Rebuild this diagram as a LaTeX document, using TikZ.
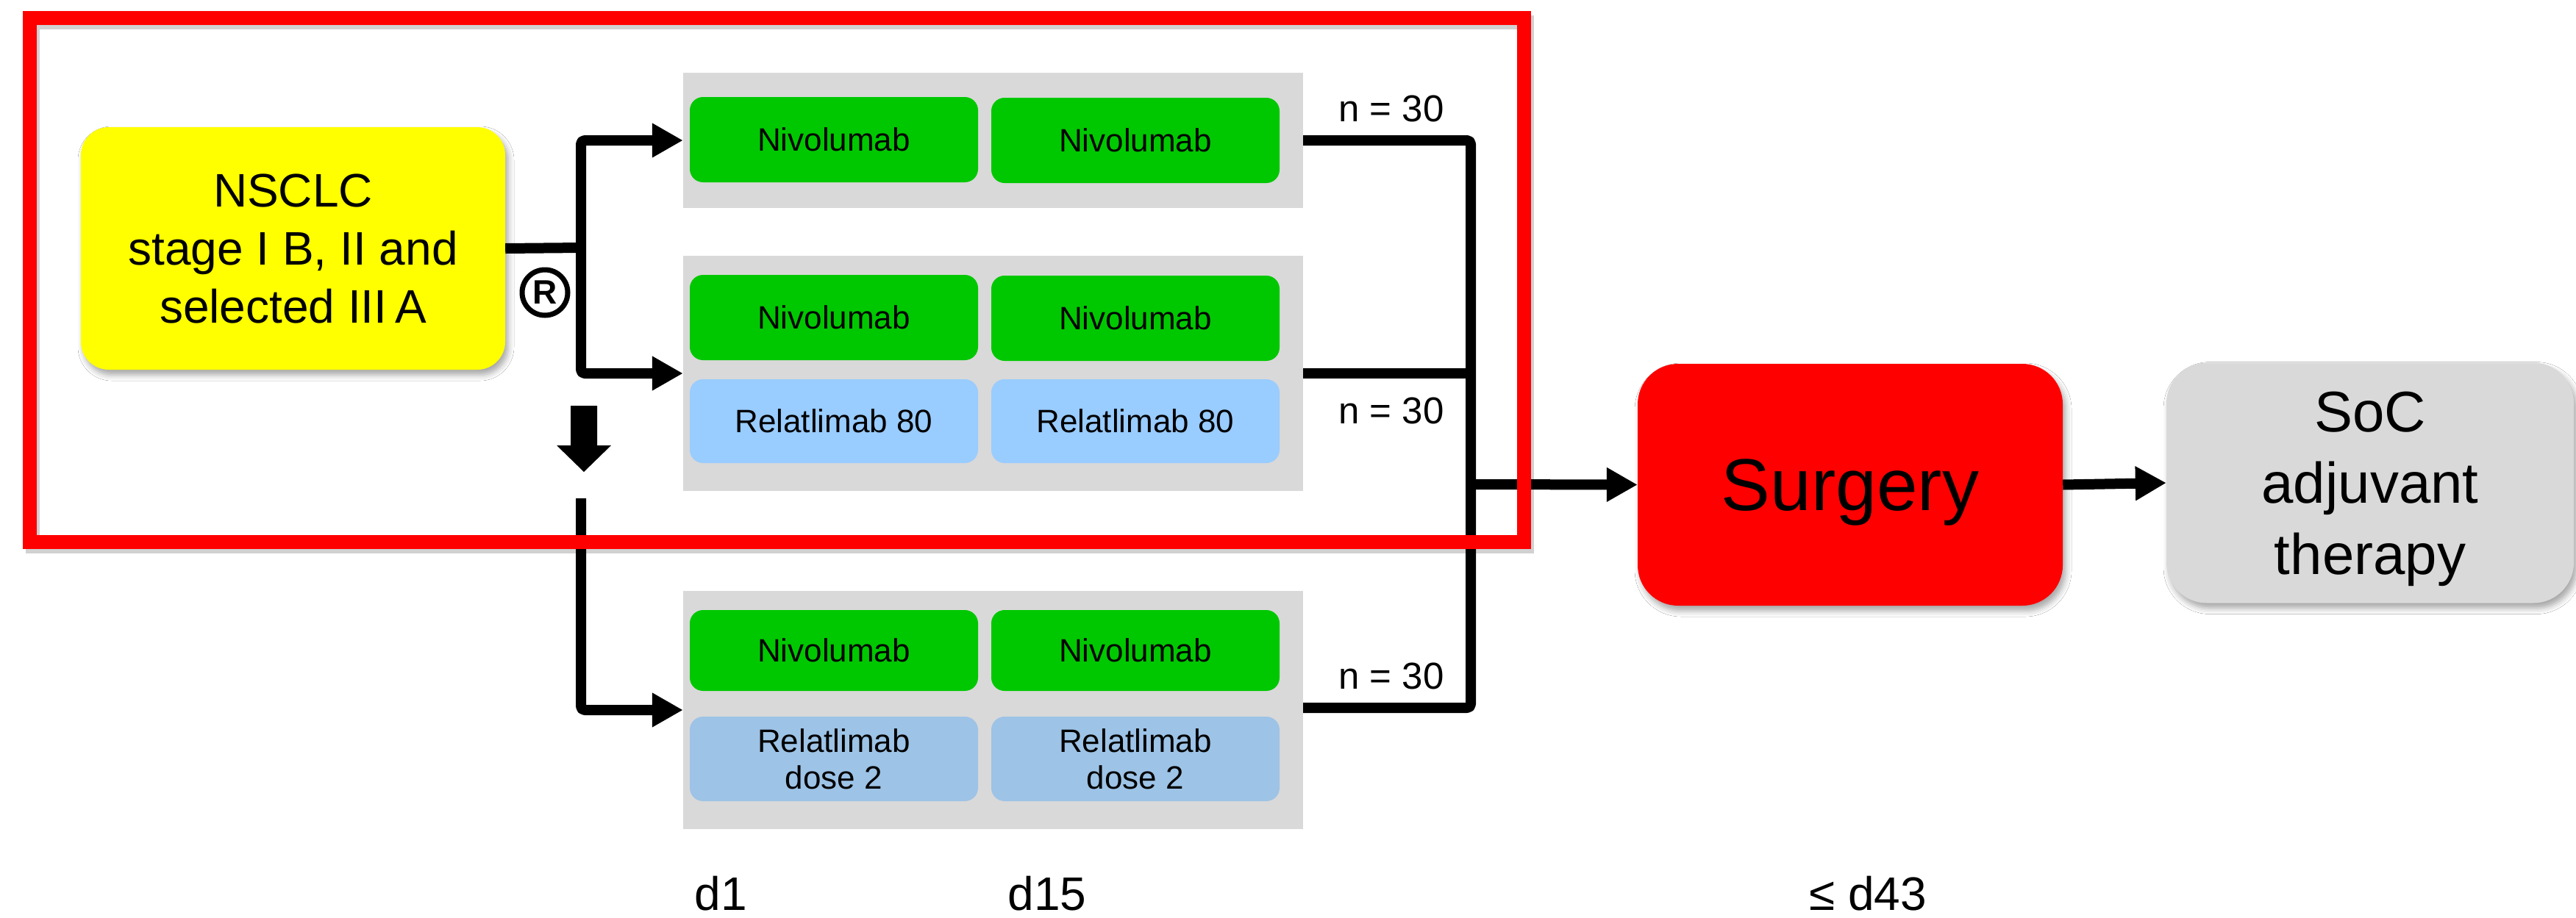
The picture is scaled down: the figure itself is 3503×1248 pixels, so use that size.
\documentclass[tikz,border=0pt]{standalone}
\usepackage{fontspec}
\setmainfont{Liberation Sans}
\usetikzlibrary{arrows.meta,shadows.blur}

\definecolor{boxyellow}{HTML}{FFFF00}
\definecolor{dosegreen}{HTML}{00C800}
\definecolor{relablue}{HTML}{99CCFF}
\definecolor{doseblue}{HTML}{9DC3E6}
\definecolor{panelgray}{HTML}{D9D9D9}
\definecolor{framered}{HTML}{FF0000}

\tikzset{
  conn/.style={draw=black, line width=14pt, line join=round},
  arrowconn/.style={conn, -{Triangle[length=42pt,width=44pt]}},
  panel/.style={fill=panelgray, draw=none, minimum width=843pt, inner sep=0pt},
  drugbox/.style={rounded corners=18pt, minimum width=392pt, inner sep=0pt,
    align=center, font=\fontsize{44}{50}\selectfont},
  nivo/.style={drugbox, fill=dosegreen},
  relaeighty/.style={drugbox, fill=relablue},
  reladose/.style={drugbox, fill=doseblue},
  softshadow/.style={blur shadow={shadow xshift=4pt, shadow yshift=-7pt,
    shadow blur radius=8pt, shadow opacity=35}},
  bigbox/.style={inner sep=0pt, align=center, softshadow},
  nlabel/.style={font=\fontsize{51}{51}\selectfont, inner sep=0pt},
  daylabel/.style={font=\fontsize{64}{64}\selectfont, anchor=base, inner sep=0pt},
}

\begin{document}
\begin{tikzpicture}[x=1pt, y=-1pt]
  \useasboundingbox (0,0) rectangle (3503,1248);
  \fill[white] (0,0) rectangle (3503,1248);

  % patient population
  \node[bigbox, fill=boxyellow, rounded corners=38pt,
        minimum width=577pt, minimum height=330pt,
        font=\fontsize{64}{79}\selectfont] (nsclc) at (398.5,338)
        {NSCLC\\stage I B, II and\\selected III\,A};

  % treatment arms
  \node[panel, minimum height=184pt] (g1) at (1350.5,191) {};
  \node[panel, minimum height=320pt] (g2) at (1350.5,508) {};
  \node[panel, minimum height=324pt] (g3) at (1350.5,966) {};

  \node[nivo, minimum height=116pt] (a1) at (1134,190) {Nivolumab};
  \node[nivo, minimum height=116pt] (a2) at (1544,191) {Nivolumab};

  \node[nivo, minimum height=116pt] (b1) at (1134,432) {Nivolumab};
  \node[nivo, minimum height=116pt] (b2) at (1544,433) {Nivolumab};
  \node[relaeighty, minimum height=114pt] (b3) at (1134,573) {Relatlimab 80};
  \node[relaeighty, minimum height=114pt] (b4) at (1544,573) {Relatlimab 80};

  \node[nivo, minimum height=110pt] (c1) at (1134,885) {Nivolumab};
  \node[nivo, minimum height=110pt] (c2) at (1544,885) {Nivolumab};
  \node[reladose, minimum height=115pt] (c3) at (1134,1032.5) {Relatlimab\\dose 2};
  \node[reladose, minimum height=115pt] (c4) at (1544,1032.5) {Relatlimab\\dose 2};

  \node[nlabel] (n1) at (1892,148) {n = 30};
  \node[nlabel] (n2) at (1892,559) {n = 30};
  \node[nlabel] (n3) at (1892,920) {n = 30};

  % surgery and adjuvant phase
  \node[bigbox, fill=framered, rounded corners=55pt,
        minimum width=578pt, minimum height=329pt, text depth=0pt,
        font=\fontsize{100}{100}\selectfont] (surgery) at (2516,659.5) {Surgery};
  \node[bigbox, fill=panelgray, rounded corners=55pt,
        minimum width=554pt, minimum height=327pt, text depth=0pt,
        font=\fontsize{78}{97}\selectfont] (soc) at (3223,657) {SoC\\adjuvant\\therapy};

  % randomisation symbol
  \node[circle, draw=black, line width=7pt, minimum size=62pt, inner sep=0pt,
        font=\fontsize{46}{46}\selectfont\bfseries] (rand) at (741,398) {R};

  % randomisation split
  \coordinate (split) at (790,337);
  \coordinate (resume) at (790,678);
  \draw[conn] (nsclc.east) -- (split);
  \draw[arrowconn, rounded corners=5pt] (split) |- (g1.west);
  \draw[arrowconn, rounded corners=5pt] (split) |- (g2.west);
  \draw[arrowconn, rounded corners=5pt] (resume) |- (g3.west);

  % block arrow to the later arm
  \fill[black] (776,552) -- (812,552) -- (812,606) -- (831,606)
               -- (794,642) -- (757,606) -- (776,606) -- cycle;

  % arms merging into surgery
  \coordinate (merge) at (2000,659);
  \draw[conn, rounded corners=5pt] (g1.east) -| (merge);
  \draw[conn, rounded corners=5pt] ([yshift=3pt]g3.east) -| (merge);
  \draw[conn] (g2.east) -- (g2.east -| merge);
  \draw[arrowconn] (merge) -- (surgery.west);
  \draw[arrowconn] (surgery.east) -- (soc.west);

  % time points
  \node[daylabel] (d1) at (980,1238) {d1};
  \node[daylabel] (d15) at (1424,1238) {d15};
  \node[daylabel] (d43) at (2540,1238) {≤ d43};

  % highlight frame
  \draw[black, opacity=0.18, line width=19pt] (44,30) rectangle (2076,743);
  \draw[framered, line width=19pt] (40,24) rectangle (2072,737);
\end{tikzpicture}
\end{document}
